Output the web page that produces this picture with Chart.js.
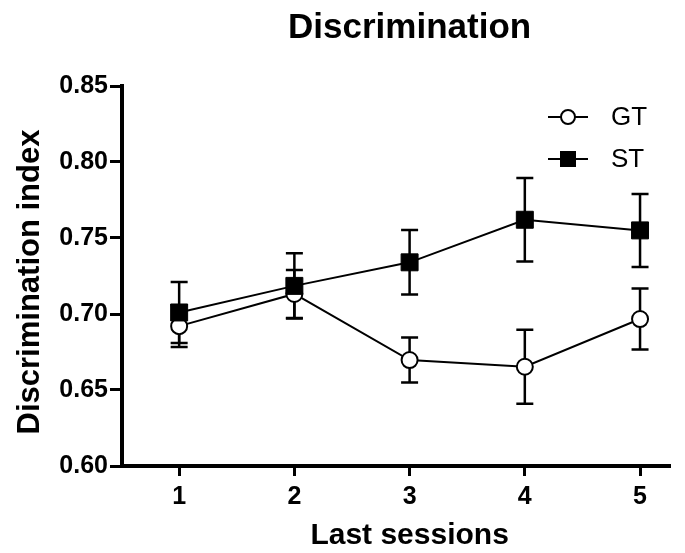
<!DOCTYPE html>
<html lang="en">
<head>
    <meta charset="UTF-8">
    <title>Discrimination</title>
    <style>
        html, body { margin: 0; padding: 0; background: #ffffff; }
        .chart-wrapper { width: 685px; height: 553px; }
    </style>
    <script src="https://cdn.jsdelivr.net/npm/chart.js"></script>
</head>
<body>
    <div class="chart-wrapper">
        <canvas id="discChart" width="685" height="553"></canvas>
    </div>
    <script>
        // values (mean +/- SEM)
        const sessions = [1, 2, 3, 4, 5];
        const gtMean = [0.692, 0.7132, 0.6697, 0.6653, 0.6967];
        const gtSem = [0.0137, 0.0158, 0.0148, 0.0243, 0.0200];
        const stMean = [0.701, 0.7185, 0.734, 0.762, 0.755];
        const stSem = [0.0200, 0.0215, 0.0212, 0.0275, 0.0240];
        const yTicks = [0.60, 0.65, 0.70, 0.75, 0.80, 0.85];

        const FONT = "'Liberation Sans', Arial, sans-serif";

        // error bars go under the markers
        const errorBars = {
            id: 'errorBars',
            beforeDatasetsDraw(chart) {
                const ctx = chart.ctx;
                const xs = chart.scales.x, ys = chart.scales.y;
                const sems = [stSem, gtSem];
                ctx.save();
                ctx.strokeStyle = '#000';
                ctx.lineWidth = 2.5;
                chart.data.datasets.forEach((ds, d) => {
                    ds.data.forEach((p, i) => {
                        const x = xs.getPixelForValue(p.x);
                        const top = ys.getPixelForValue(p.y + sems[d][i]);
                        const bot = ys.getPixelForValue(p.y - sems[d][i]);
                        ctx.beginPath();
                        ctx.moveTo(x, top); ctx.lineTo(x, bot);
                        ctx.moveTo(x - 8.5, top); ctx.lineTo(x + 8.5, top);
                        ctx.moveTo(x - 8.5, bot); ctx.lineTo(x + 8.5, bot);
                        ctx.stroke();
                    });
                });
                ctx.restore();
            }
        };

        // title, axis titles (centred on the data range like the original) and legend
        const decorations = {
            id: 'decorations',
            afterDraw(chart) {
                const ctx = chart.ctx;
                const xs = chart.scales.x;
                const midX = xs.getPixelForValue(3);
                ctx.save();
                ctx.fillStyle = '#000';
                ctx.textAlign = 'center';
                ctx.textBaseline = 'middle';
                ctx.font = 'bold 35px ' + FONT;
                ctx.fillText('Discrimination', midX, 28);

                ctx.font = 'bold 30px ' + FONT;
                ctx.fillText('Last sessions', midX, 536);

                ctx.save();
                ctx.translate(30, 282);
                ctx.rotate(-Math.PI / 2);
                ctx.font = 'bold 31px ' + FONT;
                ctx.fillText('Discrimination index', 0, 0);
                ctx.restore();

                const items = [
                    { label: 'GT', y: 117, style: 'circle' },
                    { label: 'ST', y: 159, style: 'rect' }
                ];
                ctx.font = '26px ' + FONT;
                ctx.textAlign = 'left';
                items.forEach(it => {
                    ctx.strokeStyle = '#000';
                    ctx.lineWidth = 2;
                    ctx.beginPath();
                    ctx.moveTo(548, it.y); ctx.lineTo(588, it.y);
                    ctx.stroke();
                    if (it.style === 'circle') {
                        ctx.beginPath();
                        ctx.arc(568, it.y, 7, 0, Math.PI * 2);
                        ctx.fillStyle = '#fff';
                        ctx.fill();
                        ctx.stroke();
                    } else {
                        ctx.fillStyle = '#000';
                        ctx.fillRect(560, it.y - 8, 16, 16);
                    }
                    ctx.fillStyle = '#000';
                    ctx.fillText(it.label, 611, it.y + 1);
                });
                ctx.restore();
            }
        };

        const data = {
            datasets: [
                {
                    label: 'ST',
                    data: sessions.map((s, i) => ({ x: s, y: stMean[i] })),
                    borderColor: '#000',
                    borderWidth: 2,
                    backgroundColor: '#000',
                    pointStyle: 'rect',
                    pointRadius: 12,
                    pointBorderWidth: 1,
                    pointBackgroundColor: '#000',
                    pointBorderColor: '#000',
                    tension: 0
                },
                {
                    label: 'GT',
                    data: sessions.map((s, i) => ({ x: s, y: gtMean[i] })),
                    borderColor: '#000',
                    borderWidth: 2,
                    backgroundColor: '#fff',
                    pointStyle: 'circle',
                    pointRadius: 8,
                    pointBorderWidth: 2,
                    pointBackgroundColor: '#fff',
                    pointBorderColor: '#000',
                    tension: 0
                }
            ]
        };

        const config = {
            type: 'line',
            data: data,
            options: {
                responsive: false,
                animation: false,
                events: [],
                layout: { padding: { top: 86, right: 15, left: 0, bottom: 0 } },
                plugins: {
                    legend: { display: false },
                    title: { display: false },
                    tooltip: { enabled: false }
                },
                scales: {
                    x: {
                        type: 'linear',
                        min: 0.504,
                        max: 5.26,
                        afterBuildTicks: s => { s.ticks = sessions.map(v => ({ value: v })); },
                        afterFit: s => { s.height = 87; },
                        grid: {
                            drawOnChartArea: false,
                            drawTicks: true,
                            tickLength: 10,
                            tickWidth: 3,
                            tickColor: '#000'
                        },
                        border: { display: true, width: 4, color: '#000' },
                        ticks: {
                            color: '#000',
                            padding: 6,
                            font: { family: FONT, size: 25, weight: 'bold' }
                        }
                    },
                    y: {
                        min: 0.6,
                        max: 0.85,
                        afterBuildTicks: s => { s.ticks = yTicks.map(v => ({ value: v })); },
                        afterFit: s => { s.width = 122; },
                        grid: {
                            drawOnChartArea: false,
                            drawTicks: true,
                            tickLength: 12,
                            tickWidth: 3,
                            tickColor: '#000'
                        },
                        border: { display: true, width: 4, color: '#000' },
                        ticks: {
                            color: '#000',
                            padding: 2,
                            callback: v => v.toFixed(2),
                            font: { family: FONT, size: 25, weight: 'bold' }
                        }
                    }
                }
            },
            plugins: [errorBars, decorations]
        };

        new Chart(document.getElementById('discChart'), config);
    </script>
</body>
</html>
